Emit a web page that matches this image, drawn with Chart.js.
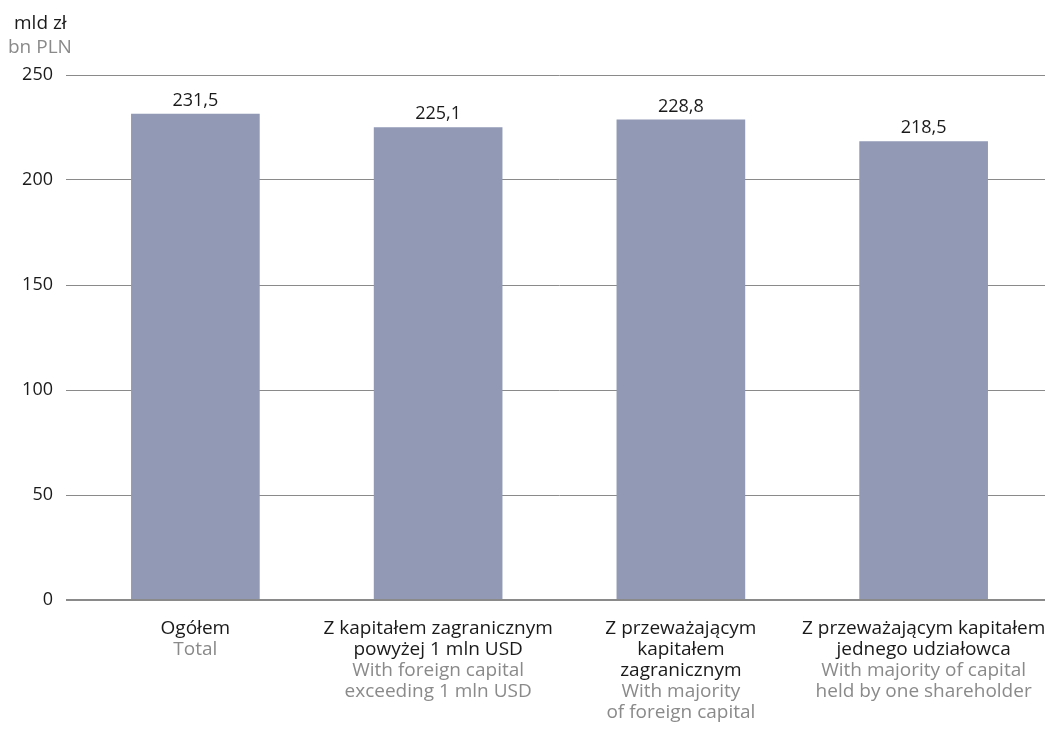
<!DOCTYPE html>
<html>
<head>
<meta charset="utf-8">
<script src="https://cdn.jsdelivr.net/npm/chart.js@4"></script>
<style>
  html, body { margin: 0; padding: 0; background: #fff; }
  #wrap { position: relative; width: 1045px; height: 730px; }
  canvas { position: absolute; left: 0; top: 0; }
</style>
</head>
<body>
<div id="wrap">
  <canvas id="c" width="1045" height="730"></canvas>
</div>
<script>
const unitPL = "mld zł";
const unitEN = "bn PLN";
const categoriesPL = [
  ["Ogółem"],
  ["Z kapitałem zagranicznym", "powyżej 1 mln USD"],
  ["Z przeważającym", "kapitałem", "zagranicznym"],
  ["Z przeważającym kapitałem", "jednego udziałowca"]
];
const categoriesEN = [
  ["Total"],
  ["With foreign capital", "exceeding 1 mln USD"],
  ["With majority", "of foreign capital"],
  ["With majority of capital", "held by one shareholder"]
];
const values = [231.5, 225.1, 228.8, 218.5];
const yTicks = [0, 50, 100, 150, 200, 250];

const FONT = '"Open Sans", sans-serif';
const DARK = '#1a1a1a';
const GREY = '#8a8a8a';

const valueLabels = {
  id: 'valueLabels',
  afterDatasetsDraw(chart) {
    const ctx = chart.ctx;
    const meta = chart.getDatasetMeta(0);
    ctx.save();
    ctx.font = '18px ' + FONT;
    ctx.fillStyle = DARK;
    ctx.textAlign = 'center';
    ctx.textBaseline = 'alphabetic';
    meta.data.forEach((bar, i) => {
      ctx.fillText(values[i].toFixed(1).replace('.', ','), bar.x, bar.y - 8);
    });
    ctx.restore();
  }
};

const textLabels = {
  id: 'textLabels',
  afterDraw(chart) {
    const ctx = chart.ctx;
    const xs = chart.scales.x;
    const lh = 21;
    ctx.save();
    ctx.font = '19px ' + FONT;
    ctx.textBaseline = 'alphabetic';
    ctx.textAlign = 'left';
    ctx.fillStyle = DARK;
    ctx.fillText(unitPL, 14, 29);
    ctx.fillStyle = GREY;
    ctx.fillText(unitEN, 8, 53);
    ctx.textAlign = 'center';
    categoriesPL.forEach((pl, i) => {
      const x = xs.getPixelForValue(i);
      let y = chart.chartArea.bottom + 34;
      ctx.fillStyle = DARK;
      pl.forEach(line => { ctx.fillText(line, x, y); y += lh; });
      ctx.fillStyle = GREY;
      categoriesEN[i].forEach(line => { ctx.fillText(line, x, y); y += lh; });
    });
    ctx.restore();
  }
};

new Chart(document.getElementById('c'), {
  type: 'bar',
  data: {
    labels: categoriesPL.map(l => l.join(' ')),
    datasets: [{
      data: values,
      backgroundColor: '#9199b5',
      categoryPercentage: 1.0,
      barPercentage: 0.53
    }]
  },
  options: {
    responsive: false,
    animation: false,
    layout: { padding: { top: 75, right: 0, bottom: 122, left: 0 } },
    plugins: { legend: { display: false }, tooltip: { enabled: false } },
    scales: {
      x: {
        ticks: { display: false },
        grid: { display: false },
        border: { display: false }
      },
      y: {
        min: 0, max: 250,
        afterBuildTicks(scale) { scale.ticks = yTicks.map(v => ({ value: v })); },
        afterFit(scale) { scale.width = 74; },
        ticks: {
          font: { family: FONT, size: 18 },
          color: DARK,
          padding: 13
        },
        grid: {
          color: '#8a8a8a',
          lineWidth: ctx => ctx.tick && ctx.tick.value === 0 ? 2 : 1,
          tickLength: 8
        },
        border: { display: false }
      }
    }
  },
  plugins: [valueLabels, textLabels]
});
</script>
</body>
</html>
